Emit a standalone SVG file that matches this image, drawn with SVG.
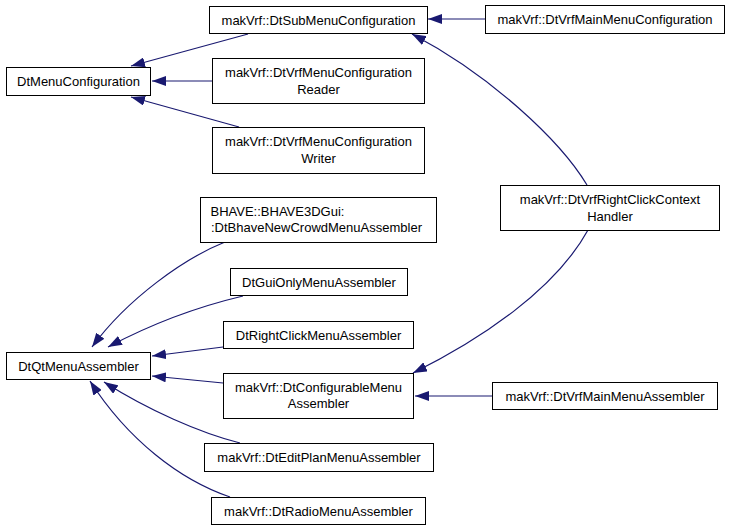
<svg xmlns="http://www.w3.org/2000/svg" width="731" height="531" viewBox="0 0 731 531">
<style>
.box{fill:#fff;stroke:#000;stroke-width:1}
text{font-family:"Liberation Sans",Arial,sans-serif;font-size:13px;fill:#000}
.c{text-anchor:middle}
.e{fill:none;stroke:#191970;stroke-width:1.2;marker-end:url(#ah)}
</style>
<defs>
<marker id="ah" viewBox="0 0 14 10" refX="14" refY="5" markerWidth="14" markerHeight="10" markerUnits="userSpaceOnUse" orient="auto">
<path d="M0,0 L14,5 L0,10 z" fill="#191970"/>
</marker>
</defs>
<rect width="731" height="531" fill="#fff"/>
<g id="connectors">
<path class="e" d="M248,34 L131,66"/>
<path class="e" d="M212,81 L152,81"/>
<path class="e" d="M239,127 L131,97"/>
<path class="e" d="M485,19 L428,19"/>
<path class="e" d="M587,185 C560,140 490,75 412,34"/>
<path class="e" d="M225,242 C185,258 128,298 92,347"/>
<path class="e" d="M243,296 C205,305 155,322 108,347"/>
<path class="e" d="M223,347 L152,356"/>
<path class="e" d="M223,383 L152,376"/>
<path class="e" d="M240,443 C200,433 148,410 104,382"/>
<path class="e" d="M230,497 C180,480 128,440 90,381"/>
<path class="e" d="M588,230 C555,290 480,340 413,373"/>
<path class="e" d="M492,396 L415,396"/>
</g>
<g id="DtMenuConfiguration"><rect class="box" x="6.5" y="67.5" width="144" height="28"/><text class="c" x="78.5" y="86">DtMenuConfiguration</text></g>
<g id="DtSubMenuConfiguration"><rect class="box" x="209.5" y="6.5" width="218" height="27"/><text class="c" x="318.5" y="24.5">makVrf::DtSubMenuConfiguration</text></g>
<g id="DtVrfMenuConfigurationReader"><rect class="box" x="212.5" y="58.5" width="212" height="45"/><text class="c" x="318.5" y="76.5">makVrf::DtVrfMenuConfiguration</text><text class="c" x="318.5" y="93.5">Reader</text></g>
<g id="DtVrfMenuConfigurationWriter"><rect class="box" x="212.5" y="127.5" width="212" height="46"/><text class="c" x="318.5" y="146">makVrf::DtVrfMenuConfiguration</text><text class="c" x="318.5" y="163">Writer</text></g>
<g id="DtVrfMainMenuConfiguration"><rect class="box" x="485.5" y="5.5" width="239" height="28"/><text class="c" x="605" y="24">makVrf::DtVrfMainMenuConfiguration</text></g>
<g id="DtVrfRightClickContextHandler"><rect class="box" x="500.5" y="185.5" width="219" height="45"/><text class="c" x="610" y="204">makVrf::DtVrfRightClickContext</text><text class="c" x="610" y="220.5">Handler</text></g>
<g id="DtBhaveNewCrowdMenuAssembler"><rect class="box" x="200.5" y="197.5" width="236" height="45"/><text x="210.5" y="215.5">BHAVE::BHAVE3DGui:</text><text x="211" y="232">:DtBhaveNewCrowdMenuAssembler</text></g>
<g id="DtGuiOnlyMenuAssembler"><rect class="box" x="230.5" y="268.5" width="177" height="27"/><text class="c" x="319" y="286.5">DtGuiOnlyMenuAssembler</text></g>
<g id="DtRightClickMenuAssembler"><rect class="box" x="223.5" y="321.5" width="190" height="27"/><text class="c" x="318.5" y="339.5">DtRightClickMenuAssembler</text></g>
<g id="DtQtMenuAssembler"><rect class="box" x="6.5" y="352.5" width="144" height="27"/><text class="c" x="78.5" y="370.5">DtQtMenuAssembler</text></g>
<g id="DtConfigurableMenuAssembler"><rect class="box" x="223.5" y="373.5" width="190" height="45"/><text class="c" x="318.5" y="391.5">makVrf::DtConfigurableMenu</text><text class="c" x="318.5" y="408">Assembler</text></g>
<g id="DtEditPlanMenuAssembler"><rect class="box" x="204.5" y="443.5" width="229" height="28"/><text class="c" x="319" y="462">makVrf::DtEditPlanMenuAssembler</text></g>
<g id="DtRadioMenuAssembler"><rect class="box" x="211.5" y="497.5" width="214" height="27"/><text class="c" x="318.5" y="515.5">makVrf::DtRadioMenuAssembler</text></g>
<g id="DtVrfMainMenuAssembler"><rect class="box" x="492.5" y="382.5" width="225" height="27"/><text class="c" x="605" y="400.5">makVrf::DtVrfMainMenuAssembler</text></g>
</svg>
